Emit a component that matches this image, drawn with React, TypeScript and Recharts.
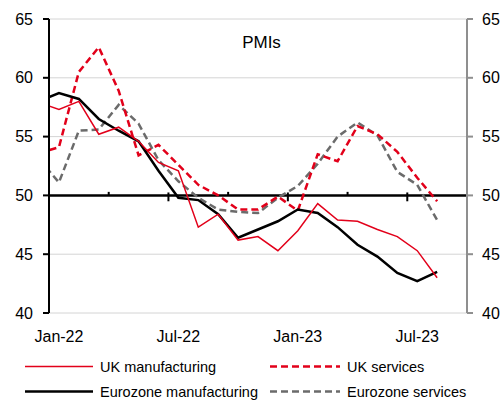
import React from 'react';
import {
  LineChart,
  Line,
  XAxis,
  YAxis,
  CartesianGrid,
  ReferenceLine,
  Legend,
  Customized,
} from 'recharts';

// ---- Data (monthly PMIs) ----
const months = [
  'Dec-21', 'Jan-22', 'Feb-22', 'Mar-22', 'Apr-22', 'May-22', 'Jun-22', 'Jul-22',
  'Aug-22', 'Sep-22', 'Oct-22', 'Nov-22', 'Dec-22', 'Jan-23', 'Feb-23', 'Mar-23',
  'Apr-23', 'May-23', 'Jun-23', 'Jul-23', 'Aug-23',
];
const ukManufacturing = [
  57.9, 57.3, 58.0, 55.2, 55.8, 54.6, 52.8, 52.1, 47.3, 48.4, 46.2, 46.5, 45.3,
  47.0, 49.3, 47.9, 47.8, 47.1, 46.5, 45.3, 43.0,
];
const ukServices = [
  53.6, 54.1, 60.5, 62.6, 58.9, 53.4, 54.3, 52.6, 50.9, 50.0, 48.8, 48.8, 49.9,
  48.7, 53.5, 52.9, 55.9, 55.2, 53.7, 51.5, 49.5,
];
const ezManufacturing = [
  58.0, 58.7, 58.2, 56.5, 55.5, 54.6, 52.1, 49.8, 49.6, 48.4, 46.4, 47.1, 47.8,
  48.8, 48.5, 47.3, 45.8, 44.8, 43.4, 42.7, 43.5,
];
const ezServices = [
  53.1, 51.1, 55.5, 55.6, 57.7, 56.1, 53.0, 51.2, 49.8, 48.8, 48.6, 48.5, 49.8,
  50.8, 52.7, 55.0, 56.2, 55.1, 52.0, 50.9, 47.9,
];
const yTicks = [40, 45, 50, 55, 60, 65];
const xLabelTicks = [0, 6, 12, 18]; // Jan-22, Jul-22, Jan-23, Jul-23
const majorTickMarks = [5.5, 11.5, 17.5];
const minorTickMarks = [2.5, 8.5, 14.5];
const title = 'PMIs';

const data = months.map((m, i) => ({
  x: i - 1,
  label: m,
  ukMfg: ukManufacturing[i],
  ukSvc: ukServices[i],
  ezMfg: ezManufacturing[i],
  ezSvc: ezServices[i],
}));

const FONT = '"Liberation Sans", Arial, Helvetica, sans-serif';
const RED = '#e2001a';
const GREY = '#6b6b6b';

const series = [
  { key: 'ukMfg', name: 'UK manufacturing', color: RED, width: 1.5, dash: undefined as string | undefined },
  { key: 'ukSvc', name: 'UK services', color: RED, width: 2.5, dash: '7 4' },
  { key: 'ezMfg', name: 'Eurozone manufacturing', color: '#000000', width: 2.5, dash: undefined as string | undefined },
  { key: 'ezSvc', name: 'Eurozone services', color: GREY, width: 2.5, dash: '7 4' },
];

const drawOrder = ['ezSvc', 'ukSvc', 'ezMfg', 'ukMfg'];

const labelFor = (v: number) => months[v + 1] ?? '';

const LegendContent = () => {
  const cols = [
    { x1: 25, x2: 93, tx: 100 },
    { x1: 270, x2: 340, tx: 347 },
  ];
  const rows = [{ ly: 14.5, ty: 20 }, { ly: 39.5, ty: 45 }];
  return (
    <svg width={500} height={48} style={{ display: 'block' }}>
      {series.map((s, i) => {
        const c = cols[i % 2];
        const r = rows[Math.floor(i / 2)];
        return (
          <g key={s.key}>
            <line
              x1={c.x1}
              x2={c.x2}
              y1={r.ly}
              y2={r.ly}
              stroke={s.color}
              strokeWidth={s.width}
              strokeDasharray={s.dash}
            />
            <text x={c.tx} y={r.ty} fontSize={14.5} fontFamily={FONT} fill="#000">
              {s.name}
            </text>
          </g>
        );
      })}
    </svg>
  );
};

const Title = () => (
  <text x={261.5} y={48} textAnchor="middle" fontSize={17} fontFamily={FONT} fill="#000">
    {title}
  </text>
);

export default function App() {
  return (
    <div style={{ position: 'absolute', left: 0, top: 0, width: 500, height: 400, background: '#fff' }}>
      <LineChart
        width={500}
        height={400}
        data={data}
        margin={{ top: 19, right: 0, bottom: 0, left: 0 }}
      >
        <CartesianGrid horizontal vertical={false} stroke="#d4d4d4" strokeWidth={1} yAxisId="left" />
        <XAxis
          dataKey="x"
          type="number"
          domain={[-0.5, 20.5]}
          allowDataOverflow
          ticks={xLabelTicks}
          tickFormatter={labelFor}
          axisLine={false}
          tickLine={false}
          tickSize={6}
          tickMargin={12}
          height={87}
          interval={0}
          tick={{ fill: '#000', fontSize: 16, fontFamily: FONT }}
        />
        <YAxis
          yAxisId="left"
          orientation="left"
          type="number"
          domain={[40, 65]}
          ticks={yTicks}
          interval={0}
          width={49}
          tickSize={6}
          tickMargin={10}
          axisLine={{ stroke: '#000', strokeWidth: 2 }}
          tickLine={{ stroke: '#000', strokeWidth: 2 }}
          tick={{ fill: '#000', fontSize: 16, fontFamily: FONT }}
        />
        <YAxis
          yAxisId="right"
          orientation="right"
          type="number"
          domain={[40, 65]}
          allowDataOverflow
          ticks={yTicks}
          interval={0}
          width={33}
          tickSize={6}
          tickMargin={9}
          axisLine={{ stroke: '#8f8f8f', strokeWidth: 2 }}
          tickLine={{ stroke: '#8f8f8f', strokeWidth: 2 }}
          tick={{ fill: '#000', fontSize: 16, fontFamily: FONT }}
        />
        <ReferenceLine yAxisId="left" y={50} stroke="#000" strokeWidth={2.5} />
        {majorTickMarks.map((v) => (
          <ReferenceLine
            key={`maj-${v}`}
            yAxisId="left"
            segment={[{ x: v, y: 49.5 }, { x: v, y: 50.25 }]}
            stroke="#000"
            strokeWidth={2}
          />
        ))}
        {minorTickMarks.map((v) => (
          <ReferenceLine
            key={`min-${v}`}
            yAxisId="left"
            segment={[{ x: v, y: 50 }, { x: v, y: 50.3 }]}
            stroke="#000"
            strokeWidth={2}
          />
        ))}
        {drawOrder.map((k) => {
          const s = series.find((q) => q.key === k)!;
          return (
            <Line
              key={s.key}
              yAxisId="left"
              type="linear"
              dataKey={s.key}
              name={s.name}
              stroke={s.color}
              strokeWidth={s.width}
              strokeDasharray={s.dash}
              dot={false}
              activeDot={false}
              isAnimationActive={false}
            />
          );
        })}
        <Customized component={Title} />
        <Legend
          verticalAlign="middle"
          align="center"
          layout="horizontal"
          content={LegendContent}
          wrapperStyle={{ top: 352, left: 0, width: 500, height: 48 }}
        />
      </LineChart>
    </div>
  );
}
